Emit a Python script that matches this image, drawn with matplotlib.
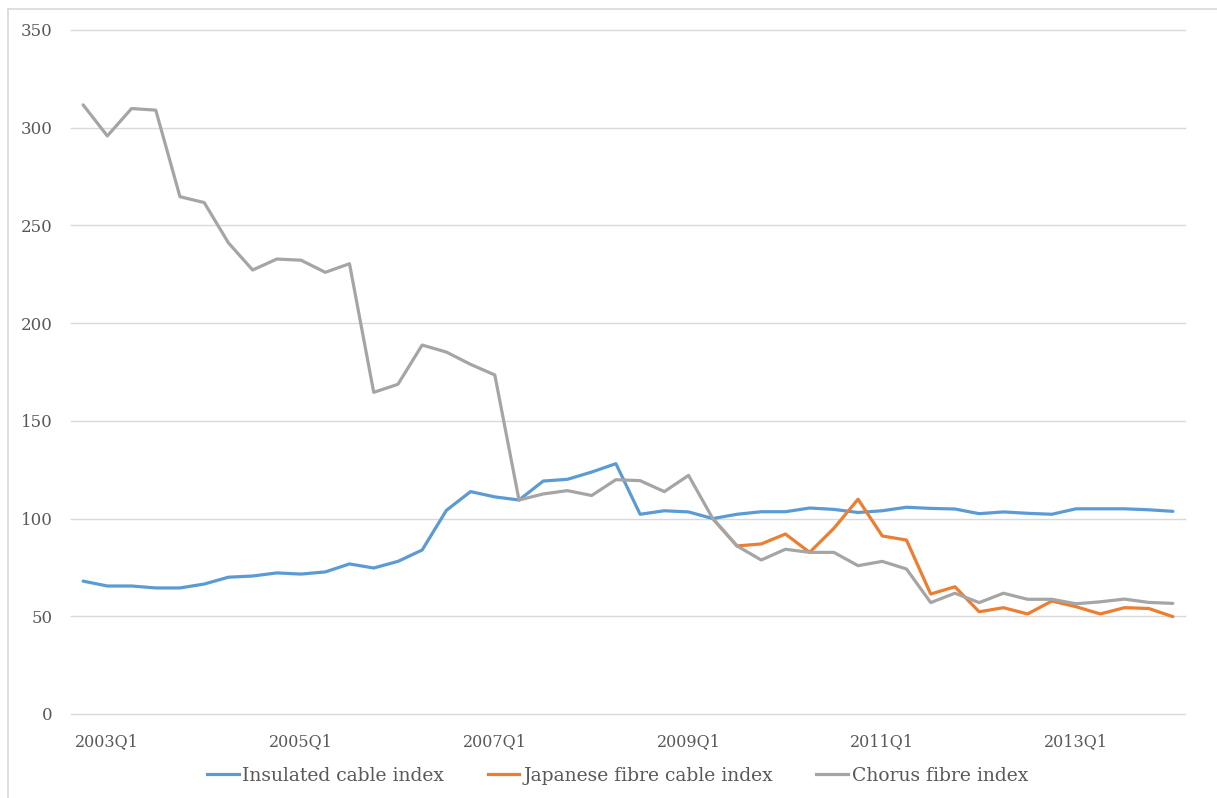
import matplotlib.pyplot as plt
from matplotlib.lines import Line2D

# quarterly series, 2002Q4 .. 2014Q1 (46 quarters), indexed to 100 at 2009Q2
quarters = [f"{y}Q{q}" for y in range(2002, 2015) for q in range(1, 5)][3:49]

insulated = [68.0, 65.5, 65.5, 64.5, 64.5, 66.5, 70.0, 70.6, 72.2, 71.6,
             72.7, 76.8, 74.7, 78.1, 83.9, 104.2, 113.8, 111.1, 109.5, 119.2,
             120.1, 123.8, 128.1, 102.2, 104.0, 103.4, 100.0, 102.2, 103.5, 103.5,
             105.4, 104.7, 103.1, 104.0, 105.8, 105.2, 104.9, 102.5, 103.4, 102.7,
             102.2, 105.0, 105.0, 105.0, 104.5, 103.7]

japanese = [None] * 26 + [100.0, 86.0, 87.0, 92.1, 82.7, 95.0, 109.9, 91.1, 89.0, 61.4,
                          65.1, 52.3, 54.4, 51.2, 57.8, 54.9, 51.2, 54.4, 54.0, 49.8]

chorus = [311.7, 295.8, 309.8, 309.0, 264.7, 261.7, 241.1, 227.2, 232.8, 232.2,
          226.0, 230.4, 164.6, 168.7, 188.8, 185.2, 178.9, 173.5, 109.5, 112.6,
          114.3, 111.8, 119.9, 119.4, 113.8, 122.1, 100.0, 86.0, 78.8, 84.3,
          82.7, 82.7, 75.9, 78.1, 74.2, 57.0, 61.8, 57.0, 61.8, 58.7,
          58.7, 56.4, 57.4, 58.8, 57.1, 56.6]

names = ["Insulated cable index", "Japanese fibre cable index", "Chorus fibre index"]
colors = ["#5B9BD5", "#ED7D31", "#A5A5A5"]

plt.rcParams['font.family'] = ['DejaVu Serif']
text_col = "#595959"

fig = plt.figure(figsize=(12.17, 7.98), dpi=100)
ax = fig.add_axes([71 / 1217, 1 - 714 / 798, 1114 / 1217, 684 / 798])

x = list(range(len(quarters)))
for series, c in zip([insulated, japanese, chorus], colors):
    xs = [i for i, v in zip(x, series) if v is not None]
    ys = [v for v in series if v is not None]
    ax.plot(xs, ys, color=c, lw=2.3, solid_joinstyle='round', solid_capstyle='round')

ax.set_xlim(-0.5, len(quarters) - 0.5)
ax.set_ylim(0, 350)
ax.set_yticks(range(0, 351, 50))
ax.grid(axis='y', color="#D9D9D9", lw=1)
ax.set_axisbelow(True)
for g in ax.get_ygridlines():
    g.set_clip_on(False)
for s in ax.spines.values():
    s.set_visible(False)

ax.set_xticks(x[1::8])
ax.set_xticklabels(quarters[1::8])
ax.tick_params(axis='both', length=0, colors=text_col, labelsize=11.5)
ax.tick_params(axis='y', pad=13, labelsize=12)
ax.tick_params(axis='x', pad=14)

handles = [Line2D([0], [0], color=c, lw=2.3) for c in colors]
leg = fig.legend(handles, names, loc='center', bbox_to_anchor=(0.5 + 9 / 1217, 1 - 776 / 798),
                 ncol=3, frameon=False, handlelength=1.7, handletextpad=0.2,
                 columnspacing=2.3, fontsize=13.5)
for t in leg.get_texts():
    t.set_color(text_col)

# chart area border (top and left edges)
fig.add_artist(Line2D([8 / 1217, 1], [1 - 9 / 798, 1 - 9 / 798], color="#D9D9D9", lw=1.2))
fig.add_artist(Line2D([8 / 1217, 8 / 1217], [0, 1 - 9 / 798], color="#D9D9D9", lw=1.2))

fig.savefig("out.png", dpi=100)
